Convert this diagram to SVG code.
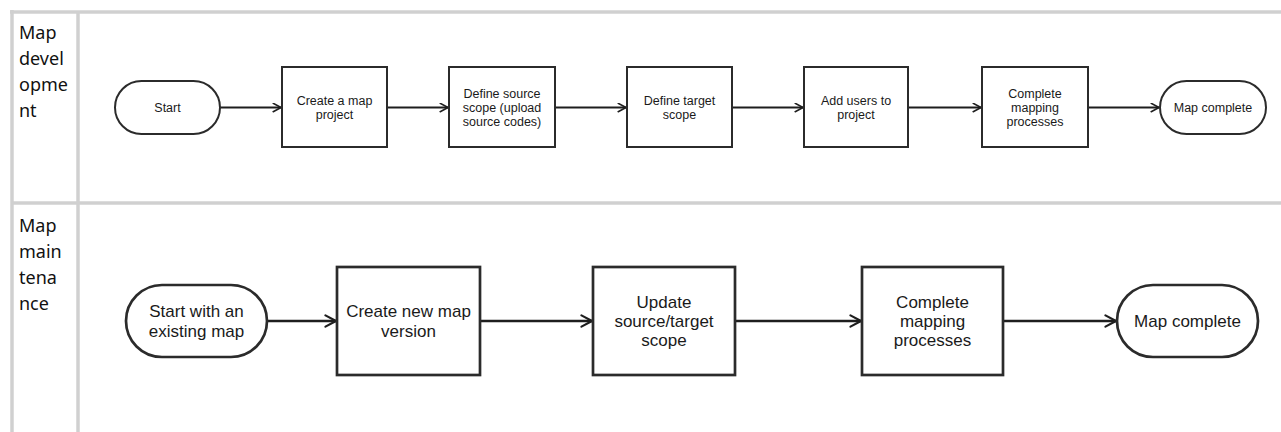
<svg xmlns="http://www.w3.org/2000/svg" width="1281" height="432" viewBox="0 0 1281 432">
  <style>
    .grid { stroke: #d0d0d0; stroke-width: 3.5; fill: none; }
    .lane { font-family: "Noto Sans", "Open Sans", sans-serif; font-size: 18px; fill: #111; }
    .n1 { fill: #fff; stroke: #2b2b2b; stroke-width: 2; }
    .n2 { fill: #fff; stroke: #2b2b2b; stroke-width: 2.7; }
    .t1 { font-family: "Liberation Sans", Arial, sans-serif; font-size: 12.5px; fill: #1a1a1a; text-anchor: middle; }
    .t2 { font-family: "Liberation Sans", Arial, sans-serif; font-size: 17px; fill: #1a1a1a; text-anchor: middle; }
    .e1 { stroke: #1e1e1e; stroke-width: 2; fill: none; marker-end: url(#arr); }
    .e2 { stroke: #1e1e1e; stroke-width: 2.7; fill: none; marker-end: url(#arr); }
  </style>
  <defs>
    <marker id="arr" viewBox="0 0 10 10" refX="9" refY="5" markerWidth="5" markerHeight="5" orient="auto">
      <path d="M1.2,0.8 L9,5 L1.2,9.2" fill="none" stroke="#1e1e1e" stroke-width="1.6" stroke-linejoin="round" stroke-linecap="round"/>
    </marker>
  </defs>
  <rect width="1281" height="432" fill="#fff"/>

  <g id="lanes">
    <line class="grid" x1="10" y1="12" x2="1281" y2="12"/>
    <line class="grid" x1="12" y1="10" x2="12" y2="432"/>
    <line class="grid" x1="78" y1="12" x2="78" y2="432"/>
    <line class="grid" x1="12" y1="203" x2="1281" y2="203"/>
    <text class="lane" x="19" y="39">Map</text>
    <text class="lane" x="19" y="65">devel</text>
    <text class="lane" x="19" y="91">opme</text>
    <text class="lane" x="19" y="117">nt</text>
    <text class="lane" x="19" y="232">Map</text>
    <text class="lane" x="19" y="258">main</text>
    <text class="lane" x="19" y="284">tena</text>
    <text class="lane" x="19" y="310">nce</text>
  </g>

  <g id="connectors">
    <line class="e1" x1="220" y1="107.5" x2="281" y2="107.5"/>
    <line class="e1" x1="387" y1="107.5" x2="448" y2="107.5"/>
    <line class="e1" x1="555" y1="107.5" x2="626" y2="107.5"/>
    <line class="e1" x1="732" y1="107.5" x2="803" y2="107.5"/>
    <line class="e1" x1="908" y1="107.5" x2="981" y2="107.5"/>
    <line class="e1" x1="1088" y1="107.5" x2="1159" y2="107.5"/>
    <line class="e2" x1="267" y1="321" x2="336" y2="321"/>
    <line class="e2" x1="480" y1="321" x2="592" y2="321"/>
    <line class="e2" x1="735" y1="321" x2="861" y2="321"/>
    <line class="e2" x1="1003" y1="321" x2="1116" y2="321"/>
  </g>

  <g id="start">
    <rect class="n1" x="115" y="81" width="105" height="53" rx="26.5"/>
    <text class="t1" x="167.5" y="112">Start</text>
  </g>
  <g id="create-map-project">
    <rect class="n1" x="282" y="67" width="105" height="80"/>
    <text class="t1" x="334.5" y="104.8">Create a map</text>
    <text class="t1" x="334.5" y="119">project</text>
  </g>
  <g id="define-source-scope">
    <rect class="n1" x="449" y="67" width="106" height="80"/>
    <text class="t1" x="502" y="97.7">Define source</text>
    <text class="t1" x="502" y="111.9">scope (upload</text>
    <text class="t1" x="502" y="126.1">source codes)</text>
  </g>
  <g id="define-target-scope">
    <rect class="n1" x="627" y="67" width="105" height="80"/>
    <text class="t1" x="679.5" y="104.8">Define target</text>
    <text class="t1" x="679.5" y="119">scope</text>
  </g>
  <g id="add-users">
    <rect class="n1" x="804" y="67" width="104" height="80"/>
    <text class="t1" x="856" y="104.8">Add users to</text>
    <text class="t1" x="856" y="119">project</text>
  </g>
  <g id="complete-mapping-1">
    <rect class="n1" x="982" y="67" width="106" height="80"/>
    <text class="t1" x="1035" y="97.7">Complete</text>
    <text class="t1" x="1035" y="111.9">mapping</text>
    <text class="t1" x="1035" y="126.1">processes</text>
  </g>
  <g id="map-complete-1">
    <rect class="n1" x="1160" y="81" width="106" height="53" rx="26.5"/>
    <text class="t1" x="1213" y="112">Map complete</text>
  </g>

  <g id="start-existing">
    <rect class="n2" x="126" y="285" width="141" height="72" rx="36"/>
    <text class="t2" x="196.5" y="317.3">Start with an</text>
    <text class="t2" x="196.5" y="336.7">existing map</text>
  </g>
  <g id="create-new-version">
    <rect class="n2" x="337" y="267" width="143" height="108"/>
    <text class="t2" x="408.5" y="317.3">Create new map</text>
    <text class="t2" x="408.5" y="336.7">version</text>
  </g>
  <g id="update-scope">
    <rect class="n2" x="593" y="267" width="142" height="108"/>
    <text class="t2" x="664" y="307.6">Update</text>
    <text class="t2" x="664" y="327">source/target</text>
    <text class="t2" x="664" y="346.4">scope</text>
  </g>
  <g id="complete-mapping-2">
    <rect class="n2" x="862" y="267" width="141" height="108"/>
    <text class="t2" x="932.5" y="307.6">Complete</text>
    <text class="t2" x="932.5" y="327">mapping</text>
    <text class="t2" x="932.5" y="346.4">processes</text>
  </g>
  <g id="map-complete-2">
    <rect class="n2" x="1117" y="285" width="141" height="72" rx="36"/>
    <text class="t2" x="1187.5" y="327">Map complete</text>
  </g>
</svg>
